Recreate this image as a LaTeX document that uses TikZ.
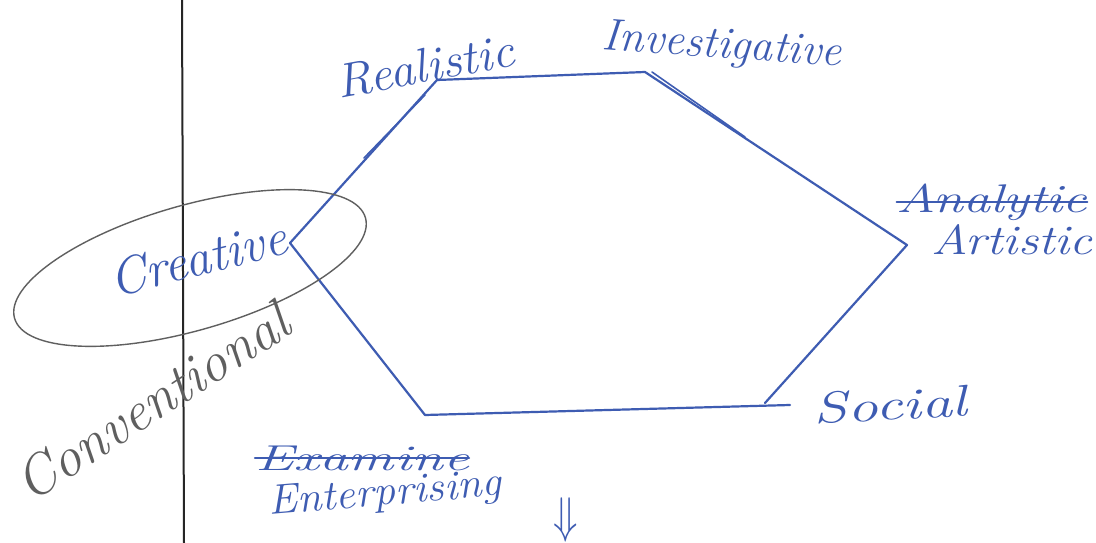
\documentclass[tikz,border=0pt]{standalone}
\usepackage{fontspec}
\usetikzlibrary{shapes.geometric}
\definecolor{pen}{RGB}{62,92,178}
\definecolor{pencil}{RGB}{95,95,95}
\tikzset{
  penline/.style={draw=pen, line width=2.2pt, line cap=round, line join=round},
  penlabel/.style={text=pen, font=\itshape, inner sep=0pt},
  pencillabel/.style={text=pencil, font=\itshape, inner sep=0pt},
}
\newcommand{\fsz}[1]{\fontsize{#1}{#1}\selectfont}
\begin{document}
\begin{tikzpicture}[x=1pt,y=-1pt]
\useasboundingbox (0,0) rectangle (1096,543);
\fill[white] (0,0) rectangle (1096,543);
% margin line
\coordinate (mt) at (182,0);
\coordinate (mb) at (184,543);
\draw[black!85, line width=2pt] (mt) -- (mb);
% hexagon vertices
\coordinate (R) at (437,80);
\coordinate (I) at (645,72);
\coordinate (A) at (907,245);
\coordinate (S) at (765,403);
\coordinate (Se) at (790,405);
\coordinate (E) at (425,415);
\coordinate (C) at (290,243);
\draw[penline] (C) -- (R) -- (I) -- (A) -- (S);
\draw[penline] (E) -- (Se);
\draw[penline] (E) -- (C);
% double strokes
\coordinate (d1a) at (425,95);
\coordinate (d1b) at (364,158);
\draw[penline, line width=1.6pt] (d1a) -- (d1b);
\coordinate (d2a) at (652,72);
\coordinate (d2b) at (745,137);
\draw[penline, line width=1.6pt] (d2a) -- (d2b);
% pencil ellipse
\node[draw=pencil, line width=1.4pt, ellipse, minimum width=365pt, minimum height=125pt, rotate=16, inner sep=0pt] (ell) at (190,268) {};
% labels
\node[penlabel, font=\itshape\fsz{48}, xscale=1.05, rotate=11] (lR) at (425,66) {Realistic};
\node[penlabel, font=\itshape\fsz{45}, rotate=-4] (lI) at (722,47) {Investigative};
\node[penlabel, font=\itshape\fsz{40}, xscale=1.35] (lAn) at (992,202) {Analytic};
\draw[penline, line width=1.8pt] (lAn.west) -- (lAn.east);
\node[penlabel, font=\itshape\fsz{42}, xscale=1.2] (lAr) at (1012,240) {Artistic};
\node[penlabel, font=\itshape\fsz{44}, xscale=1.4, rotate=4] (lS) at (890,405) {Social};
\node[penlabel, font=\itshape\fsz{36}, xscale=1.6] (lEx) at (362,458) {Examine};
\draw[penline, line width=1.8pt] (lEx.west) -- (lEx.east);
\node[penlabel, font=\itshape\fsz{42}, xscale=1.05, rotate=5] (lEn) at (385,495) {Enterprising};
\node[penlabel, font=\itshape\fsz{52}, rotate=14] (lCr) at (198,258) {Creative};
\node[pencillabel, font=\itshape\fsz{56}, rotate=33] (lCo) at (152,402) {Conventional};
\node[text=pen, inner sep=0pt] (arr) at (566,520) {\scalebox{4}[5]{$\Downarrow$}};
\end{tikzpicture}
\end{document}
